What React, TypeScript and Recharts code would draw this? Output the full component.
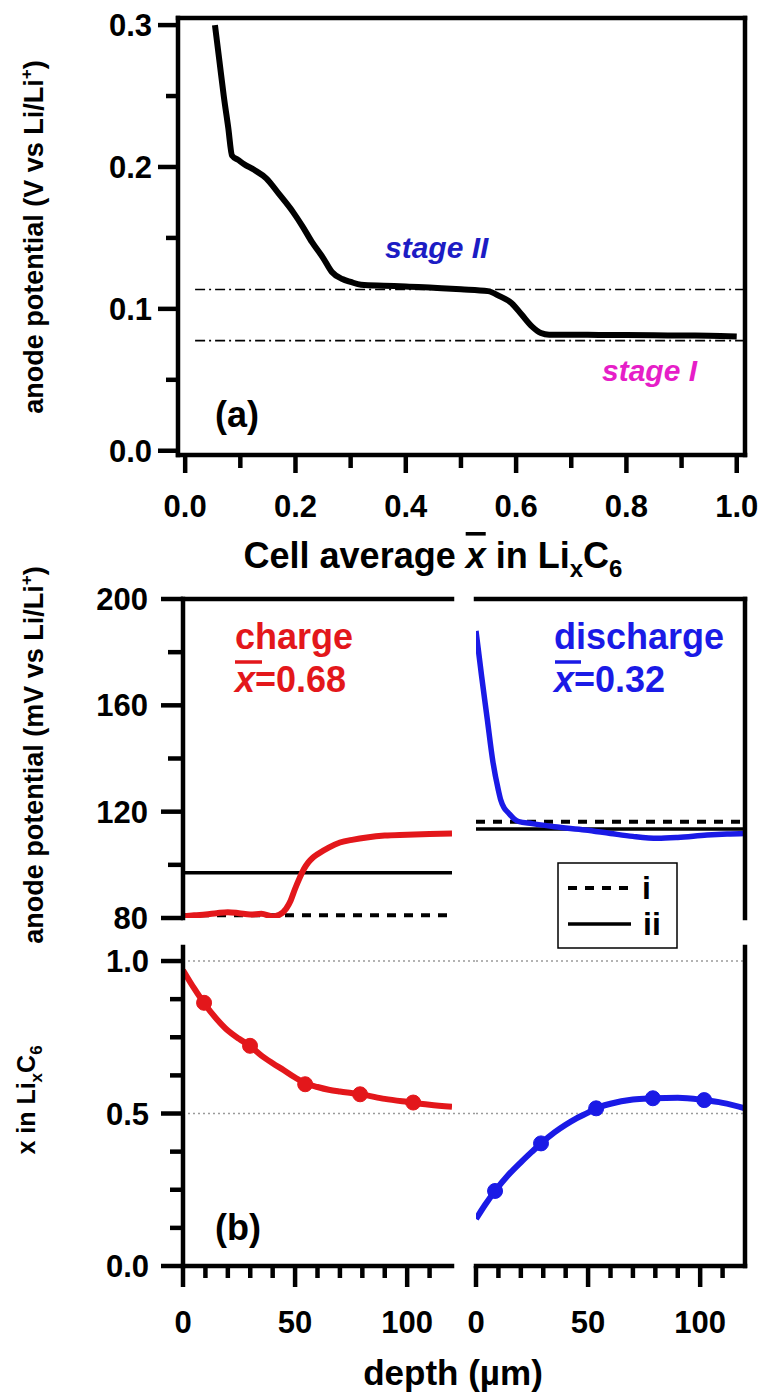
import React from 'react';
import { LineChart, Line, XAxis, YAxis, ReferenceLine } from 'recharts';

// ---------- panel (a): anode potential vs cell average x ----------
const cellAvgX = [0.054, 0.062, 0.07, 0.078, 0.085, 0.096, 0.107, 0.125, 0.147, 0.17, 0.196, 0.213, 0.23, 0.25, 0.266, 0.285, 0.30, 0.319, 0.36, 0.40, 0.45, 0.50, 0.549, 0.57, 0.592, 0.61, 0.629, 0.645, 0.66, 0.70, 0.75, 0.80, 0.85, 0.90, 0.95, 1.0];
const anodePotV = [0.300, 0.275, 0.250, 0.228, 0.208, 0.205, 0.202, 0.198, 0.192, 0.181, 0.168, 0.158, 0.147, 0.136, 0.126, 0.121, 0.119, 0.117, 0.1163, 0.1158, 0.1148, 0.1138, 0.1125, 0.109, 0.104, 0.096, 0.0875, 0.083, 0.0818, 0.0818, 0.0816, 0.0815, 0.0814, 0.0812, 0.0811, 0.0806];
const stageLevels = [0.1136, 0.0776];
const stageLineStart = 0.018;

// ---------- panel (b) top: anode potential vs depth ----------
const chargeDepth = [0, 5, 10, 15, 20, 25, 30, 35, 40, 43, 46, 48, 50, 52, 54, 56, 58, 60, 65, 70, 76, 82, 90, 100, 110, 120];
const chargeMV = [80.5, 81.0, 81.3, 81.8, 82.2, 81.8, 81.3, 81.6, 80.6, 81.2, 83.5, 86.5, 91, 95, 98.5, 101, 102.8, 104, 106.5, 108.4, 109.5, 110.3, 111, 111.3, 111.6, 111.8];
const dischargeDepth = [0, 2.5, 5, 7.5, 10, 11, 12.5, 14.5, 17, 19, 25, 35, 48.7, 60, 70, 81, 90, 103, 112, 120];
const dischargeMV = [188, 171, 155, 139, 128, 124.5, 121.5, 119.5, 117.3, 116.3, 115.5, 114.3, 113.1, 111.8, 110.7, 110, 110.3, 111.2, 111.6, 111.8];
const chargeRefI = 81;
const chargeRefII = 97;
const dischargeRefI = 116.2;
const dischargeRefII = 113.5;

// ---------- panel (b) bottom: x in LixC6 vs depth ----------
const chargeXDepth = [0, 5, 10, 15, 20, 25, 30, 35, 40, 45, 50, 55, 60, 65, 70, 75, 80, 90, 100, 110, 120];
const chargeXVal = [0.97, 0.91, 0.856, 0.81, 0.772, 0.745, 0.721, 0.69, 0.665, 0.642, 0.618, 0.598, 0.587, 0.578, 0.572, 0.567, 0.562, 0.548, 0.538, 0.529, 0.522];
const chargeDotDepth = [9.4, 29.9, 54.5, 79, 102.7];
const chargeDotVal = [0.863, 0.722, 0.596, 0.563, 0.536];
const dischargeXDepth = [0, 4, 8.5, 14, 20, 25, 29, 35, 40, 45, 50, 53.6, 60, 70, 78.9, 90, 101.8, 110, 120];
const dischargeXVal = [0.154, 0.2, 0.246, 0.295, 0.34, 0.375, 0.402, 0.438, 0.463, 0.485, 0.503, 0.517, 0.532, 0.546, 0.55, 0.552, 0.544, 0.535, 0.517];
const dischargeDotDepth = [8.5, 29, 53.6, 78.9, 101.8];
const dischargeDotVal = [0.246, 0.402, 0.517, 0.55, 0.544];
const guideLevels = [1.0, 0.5];

// ---------- ticks ----------
const aXTicks = [0, 0.1, 0.2, 0.3, 0.4, 0.5, 0.6, 0.7, 0.8, 0.9, 1.0];
const aXMajor = [0, 0.2, 0.4, 0.6, 0.8, 1.0];
const aYTicks = [0, 0.05, 0.1, 0.15, 0.2, 0.25, 0.3];
const aYMajor = [0, 0.1, 0.2, 0.3];
const mvTicks = [80, 100, 120, 140, 160, 180, 200];
const mvMajor = [80, 120, 160, 200];
const fracTicks = [0, 0.125, 0.25, 0.375, 0.5, 0.625, 0.75, 0.875, 1.0];
const fracMajor = [0, 0.5, 1.0];
const depthTicks = [0, 10, 20, 30, 40, 50, 60, 70, 80, 90, 100, 110];
const depthMajor = [0, 50, 100];

const FONT = "'Liberation Sans', Arial, Helvetica, sans-serif";
const RED = '#e3171b';
const BLUE = '#1a1ae6';
const AXW = 4.5;
const AX = { stroke: '#000', strokeWidth: AXW, strokeLinecap: 'square' as const };

const zip = (xs: number[], ys: number[]) => xs.map((x, i) => ({ x, y: ys[i] }));

const aData = zip(cellAvgX, anodePotV);
const chargeData = zip(chargeDepth, chargeMV);
const dischargeData = zip(dischargeDepth, dischargeMV);
const chargeXData = zip(chargeXDepth, chargeXVal);
const chargeDots = zip(chargeDotDepth, chargeDotVal);
const dischargeXData = zip(dischargeXDepth, dischargeXVal);
const dischargeDots = zip(dischargeDotDepth, dischargeDotVal);

const isIn = (arr: number[], v: number) => arr.some((m) => Math.abs(m - v) < 1e-6);

function makeYTick(edge: number, majors: number[], fmt: (v: number) => string, majorLen: number, minorLen: number, gap: number) {
  return (props: any) => {
    const { y, payload } = props;
    const v = payload.value;
    const major = isIn(majors, v);
    return (
      <g>
        <line x1={edge - (major ? majorLen : minorLen)} x2={edge} y1={y} y2={y} stroke="#000" strokeWidth={4.5} />
        {major && (
          <text x={edge - majorLen - gap} y={y} dy="0.36em" textAnchor="end" fontFamily={FONT} fontWeight="bold" fontSize={31} fill="#000">
            {fmt(v)}
          </text>
        )}
      </g>
    );
  };
}

function makeXTick(edge: number, majors: number[], fmt: (v: number) => string, majorLen: number, minorLen: number, labelY: number) {
  return (props: any) => {
    const { x, payload } = props;
    const v = payload.value;
    const major = isIn(majors, v);
    return (
      <g>
        <line x1={x} x2={x} y1={edge} y2={edge + (major ? majorLen : minorLen)} stroke="#000" strokeWidth={4.5} />
        {major && (
          <text x={x} y={labelY} textAnchor="middle" fontFamily={FONT} fontWeight="bold" fontSize={31} fill="#000">
            {fmt(v)}
          </text>
        )}
      </g>
    );
  };
}

const f1 = (v: number) => v.toFixed(1);
const f0 = (v: number) => String(Math.round(v));

const A_XDOM: [number, number] = [-0.013, 1.015];
const A_YDOM: [number, number] = [-0.003, 0.305];
const D_DOM: [number, number] = [0, 120];
const MV_DOM: [number, number] = [80, 200];
const FR_DOM: [number, number] = [0, 1.046];

function PanelA() {
  return (
    <LineChart width={764} height={600} margin={{ top: 17, right: 18, left: 0, bottom: 0 }}>
      <XAxis type="number" dataKey="x" domain={A_XDOM} ticks={aXTicks} interval={0} height={145} stroke="#000" strokeWidth={AXW} axisLine={AX} tickLine={false} tick={makeXTick(455, aXMajor, f1, 18, 13, 517)} allowDataOverflow />
      <XAxis xAxisId="top" orientation="top" type="number" domain={A_XDOM} height={1} stroke="#000" strokeWidth={AXW} tick={false} tickLine={false} axisLine={AX} allowDataOverflow />
      <YAxis type="number" domain={A_YDOM} ticks={aYTicks} interval={0} width={178} stroke="#000" strokeWidth={AXW} axisLine={AX} tickLine={false} tick={makeYTick(178, aYMajor, f1, 20, 12, 6)} allowDataOverflow />
      <YAxis yAxisId="right" orientation="right" type="number" domain={A_YDOM} width={1} stroke="#000" strokeWidth={AXW} tick={false} tickLine={false} axisLine={AX} allowDataOverflow />
      {stageLevels.map((lv) => (
        <ReferenceLine key={lv} segment={[{ x: stageLineStart, y: lv }, { x: A_XDOM[1], y: lv }]} stroke="#000" strokeWidth={1.6} strokeDasharray="10 4 2 4" />
      ))}
      <Line data={aData} dataKey="y" type="monotone" stroke="#000" strokeWidth={6} strokeLinejoin="round" dot={false} activeDot={false} isAnimationActive={false} />
    </LineChart>
  );
}

function UpperLeft() {
  return (
    <LineChart width={764} height={380} margin={{ top: 38, right: 312, left: 0, bottom: 22 }}>
      <XAxis type="number" dataKey="x" domain={D_DOM} hide height={0} allowDataOverflow />
      <XAxis xAxisId="top" orientation="top" type="number" domain={D_DOM} height={1} stroke="#000" strokeWidth={AXW} tick={false} tickLine={false} axisLine={AX} allowDataOverflow />
      <YAxis type="number" domain={MV_DOM} ticks={mvTicks} interval={0} width={183} stroke="#000" strokeWidth={AXW} axisLine={AX} tickLine={false} tick={makeYTick(183, mvMajor, f0, 22, 15, 13)} allowDataOverflow />
      <ReferenceLine y={chargeRefII} stroke="#000" strokeWidth={3.5} />
      <ReferenceLine segment={[{ x: 0, y: chargeRefI }, { x: 118.5, y: chargeRefI }]} stroke="#000" strokeWidth={4} strokeDasharray="9 8" />
      <Line data={chargeData} dataKey="y" type="monotone" stroke={RED} strokeWidth={6} dot={false} activeDot={false} isAnimationActive={false} />
    </LineChart>
  );
}

function UpperRight() {
  return (
    <LineChart width={764} height={380} margin={{ top: 38, right: 18, left: 476, bottom: 22 }}>
      <XAxis type="number" dataKey="x" domain={D_DOM} hide height={0} allowDataOverflow />
      <XAxis xAxisId="top" orientation="top" type="number" domain={D_DOM} height={1} stroke="#000" strokeWidth={AXW} tick={false} tickLine={false} axisLine={AX} allowDataOverflow />
      <YAxis type="number" domain={MV_DOM} hide width={0} allowDataOverflow />
      <YAxis yAxisId="right" orientation="right" type="number" domain={MV_DOM} width={1} stroke="#000" strokeWidth={AXW} tick={false} tickLine={false} axisLine={AX} allowDataOverflow />
      <ReferenceLine y={dischargeRefI} stroke="#000" strokeWidth={4} strokeDasharray="9 8" />
      <ReferenceLine y={dischargeRefII} stroke="#000" strokeWidth={3.5} />
      <Line data={dischargeData} dataKey="y" type="monotone" stroke={BLUE} strokeWidth={5.5} dot={false} activeDot={false} isAnimationActive={false} />
    </LineChart>
  );
}

function LowerLeft() {
  return (
    <LineChart width={764} height={465} margin={{ top: 17, right: 312, left: 0, bottom: 0 }}>
      <XAxis type="number" dataKey="x" domain={D_DOM} ticks={depthTicks} interval={0} height={129} stroke="#000" strokeWidth={AXW} axisLine={AX} tickLine={false} tick={makeXTick(336, depthMajor, f0, 21, 12, 403)} allowDataOverflow />
      <YAxis type="number" domain={FR_DOM} ticks={fracTicks} interval={0} width={183} stroke="#000" strokeWidth={AXW} axisLine={AX} tickLine={false} tick={makeYTick(183, fracMajor, f1, 22, 13, 12)} allowDataOverflow />
      {guideLevels.map((lv) => (
        <ReferenceLine key={lv} segment={[{ x: 0, y: lv }, { x: 131, y: lv }]} ifOverflow="visible" stroke="#9a9a9a" strokeWidth={1.5} strokeDasharray="2 3" />
      ))}
      <Line data={chargeXData} dataKey="y" type="monotone" stroke={RED} strokeWidth={6} dot={false} activeDot={false} isAnimationActive={false} />
      <Line data={chargeDots} dataKey="y" stroke="none" dot={{ r: 7.5, fill: RED, stroke: RED, strokeWidth: 1 }} activeDot={false} isAnimationActive={false} />
    </LineChart>
  );
}

function LowerRight() {
  return (
    <LineChart width={764} height={465} margin={{ top: 17, right: 18, left: 476, bottom: 0 }}>
      <XAxis type="number" dataKey="x" domain={D_DOM} ticks={depthTicks} interval={0} height={129} stroke="#000" strokeWidth={AXW} axisLine={AX} tickLine={false} tick={makeXTick(336, depthMajor, f0, 21, 12, 403)} allowDataOverflow />
      <YAxis type="number" domain={FR_DOM} hide width={0} allowDataOverflow />
      <YAxis yAxisId="right" orientation="right" type="number" domain={FR_DOM} width={1} stroke="#000" strokeWidth={AXW} tick={false} tickLine={false} axisLine={AX} allowDataOverflow />
      {guideLevels.map((lv) => (
        <ReferenceLine key={lv} y={lv} stroke="#9a9a9a" strokeWidth={1.5} strokeDasharray="2 3" />
      ))}
      <Line data={dischargeXData} dataKey="y" type="monotone" stroke={BLUE} strokeWidth={6} dot={false} activeDot={false} isAnimationActive={false} />
      <Line data={dischargeDots} dataKey="y" stroke="none" dot={{ r: 7.5, fill: BLUE, stroke: BLUE, strokeWidth: 1 }} activeDot={false} isAnimationActive={false} />
    </LineChart>
  );
}

function Overlay() {
  const bold = { fontFamily: FONT, fontWeight: 'bold' as const };
  return (
    <svg width={764} height={1395} style={{ position: 'absolute', left: 0, top: 0, pointerEvents: 'none' }}>
      {/* y titles */}
      <text x={43} y={237} transform="rotate(-90 43 237)" textAnchor="middle" fontSize={27} {...bold} fill="#000">
        {'anode potential (V vs Li/Li'}
        <tspan dy={-11} fontSize={17}>+</tspan>
        <tspan dy={11}>)</tspan>
      </text>
      <text x={43} y={755} transform="rotate(-90 43 755)" textAnchor="middle" fontSize={27} {...bold} fill="#000">
        {'anode potential (mV vs Li/Li'}
        <tspan dy={-11} fontSize={17}>+</tspan>
        <tspan dy={11}>)</tspan>
      </text>
      <text x={35} y={1100} transform="rotate(-90 35 1100)" textAnchor="middle" fontSize={25} {...bold} fill="#000">
        {'x in Li'}
        <tspan dy={7} fontSize={17}>x</tspan>
        <tspan dy={-7}>C</tspan>
        <tspan dy={7} fontSize={17}>6</tspan>
      </text>
      {/* x titles */}
      <text x={433} y={568} textAnchor="middle" fontSize={36} {...bold} fill="#000">
        {'Cell average '}
        <tspan fontStyle="italic" style={{ textDecoration: 'overline' }}>x</tspan>
        {' in Li'}
        <tspan dy={9} fontSize={24}>x</tspan>
        <tspan dy={-9}>C</tspan>
        <tspan dy={9} fontSize={24}>6</tspan>
      </text>
      <text x={453} y={1385} textAnchor="middle" fontSize={35} {...bold} fill="#000">depth (µm)</text>
      {/* panel labels */}
      <text x={215} y={427} fontSize={36} {...bold} fill="#000">(a)</text>
      <text x={215} y={1240} fontSize={36} {...bold} fill="#000">(b)</text>
      <text x={385} y={258} fontSize={30} {...bold} fontStyle="italic" fill="#1c1cc4">stage II</text>
      <text x={602} y={381} fontSize={30} {...bold} fontStyle="italic" fill="#e61ec8">stage I</text>
      {/* charge / discharge annotations */}
      <text x={235} y={649} fontSize={36} {...bold} fill={RED}>charge</text>
      <text x={235} y={692} fontSize={36} {...bold} fill={RED}>
        <tspan fontStyle="italic">x</tspan>=0.68
      </text>
      <line x1={235} x2={262} y1={662} y2={662} stroke={RED} strokeWidth={3.5} />
      <text x={554} y={649} fontSize={36} {...bold} fill={BLUE}>discharge</text>
      <text x={554} y={692} fontSize={36} {...bold} fill={BLUE}>
        <tspan fontStyle="italic">x</tspan>=0.32
      </text>
      <line x1={555} x2={581} y1={662} y2={662} stroke={BLUE} strokeWidth={3.5} />
      {/* legend */}
      <rect x={558} y={863} width={119} height={85} fill="#fff" stroke="#000" strokeWidth={1.5} />
      <line x1={568} x2={631} y1={888} y2={888} stroke="#000" strokeWidth={4} strokeDasharray="9 8" />
      <text x={642} y={899} fontSize={32} {...bold} fill="#000">i</text>
      <line x1={568} x2={631} y1={924} y2={924} stroke="#000" strokeWidth={3.5} />
      <text x={643} y={935} fontSize={32} {...bold} fill="#000">ii</text>
    </svg>
  );
}

export default function App() {
  return (
    <div style={{ position: 'absolute', left: 0, top: 0, width: 764, height: 1395, background: '#fff', overflow: 'hidden' }}>
      <div style={{ position: 'absolute', left: 0, top: 0 }}><PanelA /></div>
      <div style={{ position: 'absolute', left: 0, top: 560 }}><UpperLeft /></div>
      <div style={{ position: 'absolute', left: 0, top: 560 }}><UpperRight /></div>
      <div style={{ position: 'absolute', left: 0, top: 930 }}><LowerLeft /></div>
      <div style={{ position: 'absolute', left: 0, top: 930 }}><LowerRight /></div>
      <Overlay />
    </div>
  );
}
